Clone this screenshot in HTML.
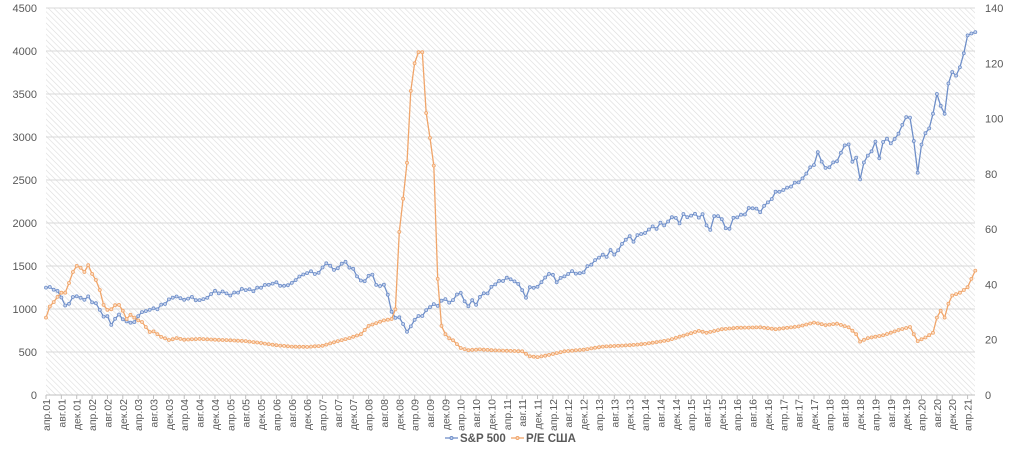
<!DOCTYPE html>
<html><head><meta charset="utf-8"><style>
html,body{margin:0;padding:0;background:#fff;}
svg text{font-family:"Liberation Sans",sans-serif;fill:#595959;}
</style></head><body>
<svg id="c" width="1023" height="450" xmlns="http://www.w3.org/2000/svg">
<defs><pattern id="h" width="4" height="4" patternUnits="userSpaceOnUse" patternTransform="rotate(-45)">
<rect width="4" height="4" fill="#fff"/><line x1="0" y1="0" x2="0" y2="4" stroke="#dcdcdc" stroke-width="1.2"/></pattern></defs>
<rect x="46" y="8" width="929" height="387" fill="url(#h)"/>
<g id="g"></g>
</svg>
<script>
const NS="http://www.w3.org/2000/svg",g=document.getElementById('g');
function el(t,a,txt){const e=document.createElementNS(NS,t);for(const k in a)e.setAttribute(k,a[k]);if(txt!==undefined)e.textContent=txt;g.appendChild(e);return e;}
const X0=46,DX=3.84,Y0=395;
for(let i=0;i<=9;i++){const y=Y0-i*43;
 if(i>0)el('line',{x1:46,x2:975,y1:y,y2:y,stroke:'#d9d9d9','stroke-width':1});
 el('text',{x:37,y:y+4,'font-size':11,'text-anchor':'end'},String(i*500));}
for(let i=0;i<=7;i++){const y=Y0-i*20*387/140;el('text',{x:985,y:y+4,'font-size':11},String(i*20));}
el('line',{x1:46,x2:975,y1:395,y2:395,stroke:'#bfbfbf','stroke-width':1});
const mn=['апр','авг','дек'];
for(let k=0;k<=60;k++){const x=X0+k*4*DX;const yr=1+Math.floor((k*4+3)/12);const lab=mn[k%3]+'.'+String(yr).padStart(2,'0');
 el('line',{x1:x,x2:x,y1:395,y2:399,stroke:'#bfbfbf'});
 el('text',{x:0,y:0,'font-size':10.5,'text-anchor':'end',transform:`translate(${x+4},399) rotate(-90)`},lab);}
const sp=[1249,1256,1224,1211,1134,1041,1060,1139,1148,
1130,1107,1147,1077,1067,990,912,916,815,886,936,880,
856,841,848,917,964,975,990,1008,996,1051,1058,1112,
1131,1145,1126,1107,1121,1141,1102,1104,1115,1130,1174,1212,
1181,1204,1181,1157,1192,1191,1234,1220,1229,1207,1249,1248,
1280,1281,1295,1311,1270,1270,1277,1304,1336,1378,1401,1418,
1438,1407,1421,1482,1531,1503,1455,1474,1527,1549,1481,1468,
1379,1331,1323,1386,1400,1280,1267,1283,1166,969,896,903,
826,735,798,873,919,919,987,1021,1057,1036,1096,1115,
1074,1104,1169,1187,1089,1031,1102,1049,1141,1183,1181,1258,
1286,1327,1326,1364,1345,1321,1292,1219,1131,1253,1247,1258,
1312,1366,1408,1398,1310,1362,1379,1407,1441,1412,1416,1426,
1498,1515,1569,1598,1631,1606,1686,1633,1682,1757,1806,1848,
1783,1859,1872,1884,1924,1960,1931,2003,1972,2018,2068,2059,
1995,2105,2068,2086,2107,2063,2104,1972,1920,2079,2080,2044,
1940,1932,2060,2065,2097,2099,2174,2171,2168,2126,2199,2239,
2279,2364,2363,2384,2412,2423,2470,2472,2519,2575,2648,2674,
2824,2714,2641,2648,2705,2718,2816,2902,2914,2712,2760,2507,
2704,2784,2834,2946,2752,2942,2980,2926,2977,3038,3141,3231,
3226,2954,2585,2912,3044,3100,3271,3500,3363,3270,3622,3756,
3714,3811,3973,4181,4204,4220];
const kp=[[0,28],[1,32],[2,33.6],[3,35.5],[4,37],[5,37],[6,40.5],[7,44.5],[8,46.7],[9,46],[10,44.5],[11,47],[12,43.8],[13,41.6],[14,38],[15,32.6],[16,30.8],[17,31],[18,32.5],[19,32.6],[20,30.5],[21,27.5],[22,29],[23,28],[24,27],[25,26.4],[26,24.6],[27,22.8],[28,23],[29,22],[30,21],[31,20.5],[32,19.9],[33,20.2],[34,20.6],[36,20],[40,20.3],[44,20],[48,19.8],[52,19.5],[56,18.8],[60,18],[64,17.5],[68,17.4],[72,17.8],[76,19.5],[79,20.6],[82,22],[84,25],[86,26],[88,27],[90,27.5],[91,31],[92,59],[93,71],[94,84],[95,110],[96,120],[97,124],[98,124],[99,102],[100,93],[101,83],[102,42],[103,25],[104,22],[105,20.5],[106,19.8],[108,17],[110,16.2],[113,16.5],[116,16.2],[120,16],[124,15.8],[126,14],[128,13.7],[131,14.5],[135,15.8],[140,16.4],[145,17.5],[152,18],[156,18.5],[162,19.8],[166,21.5],[170,23.2],[172,22.5],[176,23.8],[180,24.3],[186,24.5],[190,23.8],[196,24.8],[200,26.2],[203,25.3],[206,25.8],[209,24.5],[211,22],[212,19.3],[214,20.6],[218,21.6],[222,23.5],[225,24.6],[226,22],[227,19.5],[229,20.8],[231,22.5],[232,28],[233,30.5],[234,28],[235,33],[236,36],[238,37],[240,39],[242,45]];
const pe=[];for(let j=0;j<kp.length-1;j++){const[a,va]=kp[j],[b,vb]=kp[j+1];for(let i=a;i<b;i++)pe.push(va+(vb-va)*(i-a)/(b-a));}pe.push(45);
function series(arr,scale,col,fill){const pts=arr.map((v,i)=>[X0+i*DX,Y0-v*scale]);
 el('polyline',{points:pts.map(p=>p[0].toFixed(1)+','+p[1].toFixed(1)).join(' '),fill:'none',stroke:col,'stroke-width':1.3});
 pts.forEach(p=>el('circle',{cx:p[0].toFixed(1),cy:p[1].toFixed(1),r:1.5,fill:fill,stroke:col,'stroke-width':0.8}));}
series(sp,43/500,'#6f8fc9','#c9d5ee');
series(pe,387/140,'#f0a56a','#fbdcc3');
el('line',{x1:445,x2:458,y1:438,y2:438,stroke:'#6f8fc9','stroke-width':1.3});el('circle',{cx:451.5,cy:438,r:1.5,fill:'#c9d5ee',stroke:'#6f8fc9'});
el('text',{x:460,y:442,'font-size':11.5,'font-weight':'bold'},'S&P 500');
el('line',{x1:511,x2:524,y1:438,y2:438,stroke:'#f0a56a','stroke-width':1.3});el('circle',{cx:517.5,cy:438,r:1.5,fill:'#fbdcc3',stroke:'#f0a56a'});
el('text',{x:526,y:442,'font-size':11.5,'font-weight':'bold'},'P/E США');
</script>
</body></html>
